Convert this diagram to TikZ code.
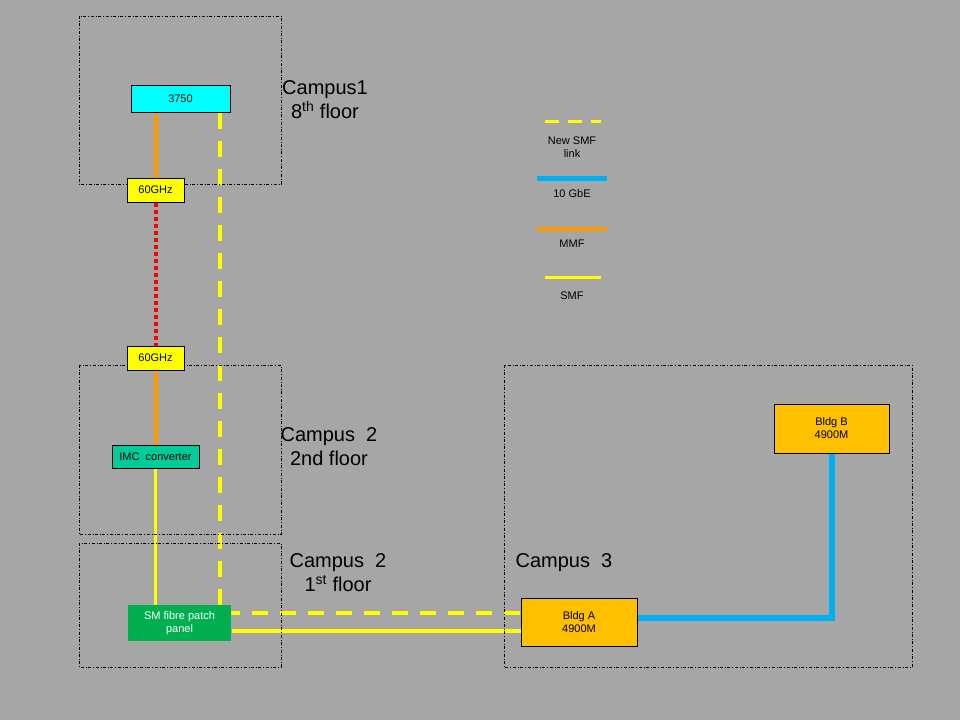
\documentclass[tikz,border=0pt]{standalone}
\usepackage{fontspec}
\setmainfont{Liberation Sans}
\usetikzlibrary{positioning}
\definecolor{bgray}{RGB}{166,166,166}
\definecolor{swcol}{RGB}{0,255,255}
\definecolor{ghzcol}{RGB}{255,255,0}
\definecolor{mmfcol}{RGB}{255,153,0}
\definecolor{smfcol}{RGB}{255,255,0}
\definecolor{gbecol}{RGB}{0,176,240}
\definecolor{imccol}{RGB}{0,204,153}
\definecolor{panelcol}{RGB}{0,176,80}
\definecolor{bldgcol}{RGB}{255,192,0}
\definecolor{radiocol}{RGB}{255,0,0}
\pgfdeclarelayer{back}
\pgfdeclarelayer{links}
\pgfsetlayers{back,links,main}

\begin{document}
\begin{tikzpicture}[x=1pt,y=-1pt,
	zone/.style={draw,dash dot,line width=0.8pt},
	dev/.style={draw,line width=1pt,align=center,inner sep=0pt,font=\fontsize{11}{13}\selectfont},
	camp/.style={align=center,font=\fontsize{20}{24}\selectfont},
	legtxt/.style={align=center,font=\fontsize{11}{13}\selectfont},
	mmf/.style={mmfcol,line width=4pt},
	smf/.style={smfcol,line width=3.5pt},
	newsmf/.style={smfcol,line width=4pt,dash pattern=on 16pt off 12pt},
	gbe/.style={gbecol,line width=6pt},
	radio/.style={radiocol,line width=4pt,dash pattern=on 4pt off 3pt}]
		\begin{pgfonlayer}{back}
		\fill[bgray] (0,0) rectangle (960,720);
		\end{pgfonlayer}
		\useasboundingbox (0,0) rectangle (960,720);
		% zones
		\draw[zone] (79,16) rectangle (281,184);
		\draw[zone] (79,365) rectangle (281,534);
		\draw[zone] (79,543) rectangle (281,667);
		\draw[zone] (504,365) rectangle (912,667);
		\node[camp] (lblc1) at (325,100) {Campus1\\8\textsuperscript{th} floor};
		\node[camp] (lblc2b) at (329,447) {Campus~~2\\2nd floor};
		\node[camp] (lblc2a) at (338,573) {Campus~~2\\1\textsuperscript{st} floor};
		\node[camp] (lblc3) at (564,563) {Campus~~3};
		% devices
		\node[dev,fill=swcol,minimum width=99pt,minimum height=27pt] (sw3750) at (180.5,98.5) {3750};
		\node[dev,fill=ghzcol,minimum width=57pt,minimum height=24pt] (ghzA) at (155.5,190) {60GHz};
		\node[dev,fill=ghzcol,minimum width=57pt,minimum height=24pt] (ghzB) at (155.5,358) {60GHz};
		\node[dev,fill=imccol,minimum width=87pt,minimum height=23pt] (imc) at (155.5,456.5) {IMC~~converter};
		\node[dev,draw=none,fill=panelcol,text=white,minimum width=103pt,minimum height=36pt] (panel) at (179.5,623) {SM fibre patch\\panel};
		\node[dev,fill=bldgcol,minimum width=116pt,minimum height=48pt] (bldgA) at (579,622) {Bldg A\\4900M};
		\node[dev,fill=bldgcol,minimum width=115pt,minimum height=49pt] (bldgB) at (831.5,428.5) {Bldg B\\4900M};
		% links
		\begin{pgfonlayer}{links}
		\draw[mmf] (ghzA |- sw3750.south) -- (ghzA.north);
		\draw[radio] (ghzA.south) -- (ghzB.north);
		\draw[mmf] (ghzB.south) -- (imc.north);
		\draw[smf] (imc.south) -- (imc |- panel.north);
		\draw[newsmf] ([xshift=39.5pt]sw3750.south) |- ([yshift=9pt]bldgA.west);
		\draw[smf] ([yshift=-8pt]panel.east) -- ([yshift=-8pt]panel.east -| bldgA.west);
		\draw[gbe] ([yshift=4pt]bldgA.east) -| (bldgB.south);
		\end{pgfonlayer}
		% legend
		\coordinate (lgnewa) at (545,121); \coordinate (lgnewb) at (601,121);
		\coordinate (lggbea) at (537,178); \coordinate (lggbeb) at (607,178);
		\coordinate (lgmmfa) at (537,229); \coordinate (lgmmfb) at (607,229);
		\coordinate (lgsmfa) at (545,277); \coordinate (lgsmfb) at (601,277);
		\draw[smfcol,line width=3pt,dash pattern=on 14pt off 9pt] (lgnewa) -- (lgnewb);
		\draw[gbecol,line width=5pt] (lggbea) -- (lggbeb);
		\draw[mmfcol,line width=4pt] (lgmmfa) -- (lgmmfb);
		\draw[smfcol,line width=3pt] (lgsmfa) -- (lgsmfb);
		\node[legtxt] (lgnewt) at (572,147) {New SMF\\link};
		\node[legtxt] (lggbet) at (572,194) {10 GbE};
		\node[legtxt] (lgmmft) at (572,244) {MMF};
		\node[legtxt] (lgsmft) at (572,296) {SMF};
\end{tikzpicture}
\end{document}
